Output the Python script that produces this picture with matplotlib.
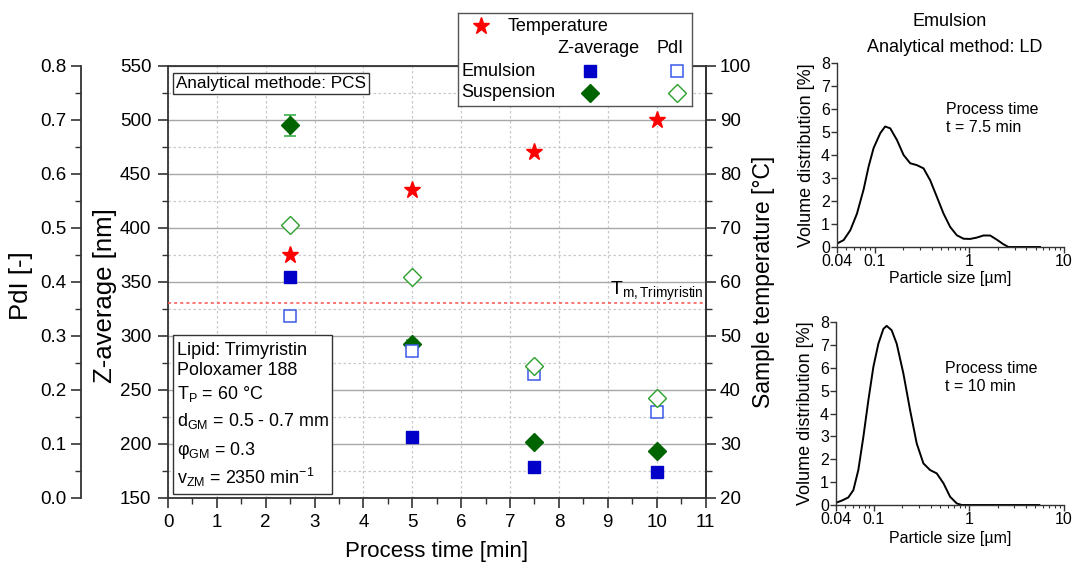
import numpy as np
import matplotlib
matplotlib.use("Agg")
import matplotlib.pyplot as plt
from matplotlib.lines import Line2D
from matplotlib.patches import Rectangle
from matplotlib.ticker import MultipleLocator, FixedLocator, NullFormatter, LogLocator

plt.rcParams['font.family'] = ['Liberation Sans', 'DejaVu Sans']
plt.rcParams['mathtext.fontset'] = 'custom'
plt.rcParams['mathtext.rm'] = 'Liberation Sans'
plt.rcParams['mathtext.it'] = 'Liberation Sans:italic'

# main chart data
process_time = [2.5, 5, 7.5, 10]
emulsion_z = [354, 206, 178, 174]
suspension_z = [495, 292, 201, 193]
suspension_z_err = [10, 4, 2, 2]
emulsion_pdi = [0.337, 0.272, 0.229, 0.159]
suspension_pdi = [0.505, 0.408, 0.244, 0.185]
temperature = [65, 77, 84, 90]
tm_trimyristin = 56

# LD distributions (emulsion)
size_75 = [0.04, 0.047, 0.0553, 0.065, 0.0764, 0.0863, 0.0974, 0.1146, 0.129, 0.146,
           0.172, 0.202, 0.2375, 0.279, 0.328, 0.386, 0.454, 0.534, 0.628, 0.738,
           0.868, 1.02, 1.2, 1.41, 1.66, 1.95, 2.29, 2.59, 5.58]
dist_75 = [0.15, 0.3, 0.73, 1.45, 2.5, 3.5, 4.3, 4.95, 5.24, 5.16,
           4.65, 4.0, 3.64, 3.56, 3.42, 2.9, 2.18, 1.45, 0.87, 0.51,
           0.36, 0.35, 0.41, 0.5, 0.5, 0.32, 0.12, 0.0, 0.0]
size_10 = [0.04, 0.0459, 0.0539, 0.0609, 0.0687, 0.0776, 0.0876, 0.0989, 0.1116, 0.126,
           0.1365, 0.154, 0.174, 0.2045, 0.2405, 0.2825, 0.332, 0.39, 0.459, 0.54,
           0.634, 0.745, 0.84, 5.5]
dist_10 = [0.1, 0.19, 0.33, 0.65, 1.53, 2.98, 4.58, 6.04, 7.05, 7.7,
           7.83, 7.64, 7.05, 5.75, 4.15, 2.69, 1.82, 1.53, 1.38, 0.95,
           0.36, 0.07, 0.0, 0.0]

blue = '#0000c8'
blue_open = '#3a5ae8'
green = '#006400'
green_open = '#2ca02c'
red = '#ff0000'
frame = '#333333'

fig = plt.figure(figsize=(10.72, 5.64), dpi=100)

# ---- main axes (Z-average) ----
ax = fig.add_axes([168/1072, 1-497.5/564, 537.5/1072, 431.5/564])
ax.set_xlim(0, 11)
ax.set_ylim(150, 550)
ax.xaxis.set_major_locator(MultipleLocator(1))
ax.xaxis.set_minor_locator(MultipleLocator(0.5))
ax.yaxis.set_major_locator(MultipleLocator(50))
ax.yaxis.set_minor_locator(MultipleLocator(25))
ax.grid(True, which='major', axis='y', color='#a8a8a8', lw=1, ls='-')
ax.grid(True, which='minor', axis='y', color='#c8c8c8', lw=0.9, ls=(0, (2, 2)))
ax.grid(True, which='major', axis='x', color='#c8c8c8', lw=0.9, ls=(0, (2, 2)))
ax.set_axisbelow(True)
ax.tick_params(which='major', direction='out', length=7, width=1.2, labelsize=13.5, pad=5, color=frame)
ax.tick_params(which='minor', direction='out', length=4, width=1, color=frame)
ax.tick_params(axis='x', which='both', top=False)
for s in ax.spines.values():
    s.set_color(frame)
    s.set_linewidth(1.3)
ax.set_xlabel('Process time [min]', fontsize=16)
ax.set_ylabel('Z-average [nm]', fontsize=18.5)
ax.xaxis.set_label_coords(0.5, -0.1)
ax.yaxis.set_label_coords(-0.095, 0.469)

# ---- PdI axis on the far left ----
ax_p = ax.twinx()
ax_p.set_ylim(0, 0.8)
ax_p.yaxis.set_major_locator(MultipleLocator(0.1))
ax_p.yaxis.set_minor_locator(MultipleLocator(0.05))
ax_p.yaxis.set_major_formatter(matplotlib.ticker.FormatStrFormatter('%.1f'))
ax_p.spines['left'].set_position(('axes', -0.162))
ax_p.spines['left'].set_visible(True)
ax_p.spines['left'].set_color(frame)
ax_p.spines['left'].set_linewidth(1.3)
for k in ['right', 'top', 'bottom']:
    ax_p.spines[k].set_visible(False)
ax_p.yaxis.set_ticks_position('left')
ax_p.yaxis.set_label_position('left')
ax_p.tick_params(which='major', direction='out', length=7, width=1.2, labelsize=13.5, color=frame)
ax_p.tick_params(which='minor', direction='out', length=4, width=1, color=frame)
ax_p.set_ylabel('PdI [-]', fontsize=18.5)
ax_p.yaxis.set_label_coords(-0.251, 0.49)

# ---- temperature axis on the right ----
ax_t = ax.twinx()
ax_t.set_ylim(20, 100)
ax_t.yaxis.set_major_locator(MultipleLocator(10))
ax_t.yaxis.set_minor_locator(MultipleLocator(5))
for k in ['left', 'top', 'bottom']:
    ax_t.spines[k].set_visible(False)
ax_t.spines['right'].set_color(frame)
ax_t.spines['right'].set_linewidth(1.3)
ax_t.tick_params(which='major', direction='out', length=7, width=1.2, labelsize=13.5, color=frame)
ax_t.tick_params(which='minor', direction='out', length=4, width=1, color=frame)
ax_t.set_ylabel('Sample temperature [°C]', fontsize=16.5)
ax_t.yaxis.set_label_coords(1.0865, 0.5)

# data
ax_t.axhline(tm_trimyristin, color='#ff5050', lw=1.1, ls=(0, (2, 2)))
ax_t.text(10.96, 57.6, r'T$_\mathrm{m,Trimyristin}$', ha='right', va='baseline', fontsize=14)

ax_p.plot(process_time, emulsion_pdi, 's', ms=9, mfc='white', mec=blue_open, mew=1.1, ls='none')
ax_p.plot(process_time, suspension_pdi, 'D', ms=9.5, mfc='white', mec=green_open, mew=1.0, ls='none')
ax.errorbar(process_time, suspension_z, yerr=suspension_z_err, fmt='D', ms=9.5, color=green,
            ecolor='#3cb04c', elinewidth=1.2, capsize=4, capthick=1.2, zorder=5)
ax.plot(process_time, emulsion_z, 's', ms=9, color=blue, ls='none', zorder=5)
ax_t.plot(process_time, temperature, '*', ms=12.5, color=red, ls='none')

# text boxes
ax.text(0.015, 0.959, 'Analytical methode: PCS', transform=ax.transAxes, fontsize=12.3,
        va='center', ha='left', zorder=6,
        bbox=dict(boxstyle='square,pad=0.18', fc='white', ec=frame, lw=1))
ax.add_patch(Rectangle((0.0093, 0.008), 0.296, 0.3685, transform=ax.transAxes,
                       fc='white', ec=frame, lw=1, zorder=6))
info_lines = ['Lipid: Trimyristin', 'Poloxamer 188', r'T$_\mathrm{P}$ = 60 °C',
              r'd$_\mathrm{GM}$ = 0.5 - 0.7 mm', r'φ$_\mathrm{GM}$ = 0.3',
              r'v$_\mathrm{ZM}$ = 2350 min$^\mathrm{-1}$']
info_y = [0.331, 0.283, 0.229, 0.166, 0.099, 0.031]
for line, yy in zip(info_lines, info_y):
    ax.text(0.016, yy, line, transform=ax.transAxes, fontsize=12.9, va='baseline', ha='left', zorder=7)

# legend drawn as a small panel above the plot
lg = fig.add_axes([458/1072, 1-106/564, 234/1072, 93/564])
lg.set_xlim(0, 1)
lg.set_ylim(0, 1)
lg.set_xticks([])
lg.set_yticks([])
for s in lg.spines.values():
    s.set_color('#555555')
    s.set_linewidth(1)
lg.add_line(Line2D([0.098], [0.86], marker='*', ms=12.5, color=red, ls='none'))
lg.text(0.21, 0.86, 'Temperature', fontsize=13, va='center')
lg.text(0.6, 0.613, 'Z-average', fontsize=13, va='center', ha='center')
lg.text(0.905, 0.613, 'PdI', fontsize=13, va='center', ha='center')
lg.text(0.013, 0.376, 'Emulsion', fontsize=13, va='center')
lg.text(0.013, 0.14, 'Suspension', fontsize=13, va='center')
lg.add_line(Line2D([0.564], [0.376], marker='s', ms=9, color=blue, ls='none'))
lg.add_line(Line2D([0.936], [0.376], marker='s', ms=9, mfc='white', mec=blue_open, mew=1.1, ls='none'))
lg.add_line(Line2D([0.564], [0.14], marker='D', ms=9.5, color=green, ls='none'))
lg.add_line(Line2D([0.936], [0.14], marker='D', ms=9.5, mfc='white', mec=green_open, mew=1.0, ls='none'))

# ---- LD panels ----
fig.text(950/1072, 1-21/564, 'Emulsion', ha='center', va='center', fontsize=13)
fig.text(955/1072, 1-47/564, 'Analytical method: LD', ha='center', va='center', fontsize=13)


def ld_panel(rect, sizes, dist, label, xlab_y):
    a = fig.add_axes(rect)
    a.plot(sizes, dist, color='black', lw=1.4)
    a.set_xscale('log')
    a.set_xlim(0.04, 10)
    a.set_ylim(0, 8)
    a.xaxis.set_major_locator(FixedLocator([0.04, 0.1, 1, 10]))
    a.set_xticklabels(['0.04', '0.1', '1', '10'])
    a.xaxis.set_minor_locator(LogLocator(base=10, subs=np.arange(2, 10) * 1.0))
    a.xaxis.set_minor_formatter(NullFormatter())
    a.yaxis.set_major_locator(MultipleLocator(1))
    a.spines['top'].set_visible(False)
    a.spines['right'].set_visible(False)
    for k in ['left', 'bottom']:
        a.spines[k].set_color(frame)
        a.spines[k].set_linewidth(1)
    a.tick_params(which='major', direction='out', length=4, width=1, labelsize=11.5, pad=1, color=frame)
    a.tick_params(which='minor', direction='out', length=2, width=0.8, color=frame)
    a.set_xlabel('Particle size [µm]', fontsize=11.5)
    a.set_ylabel('Volume distribution [%]', fontsize=13)
    a.xaxis.set_label_coords(0.5, xlab_y)
    a.yaxis.set_label_coords(-0.095, 0.5)
    a.text(0.48, 0.745, 'Process time', transform=a.transAxes, fontsize=11.5, va='center')
    a.text(0.48, 0.65, label, transform=a.transAxes, fontsize=11.5, va='center')
    return a


ld_panel([837/1072, 1-247/564, 227/1072, 184/564], size_75, dist_75, 't = 7.5 min', -0.13)
ld_panel([836/1072, 1-505/564, 228/1072, 183/564], size_10, dist_10, 't = 10 min', -0.14)

fig.savefig('out.png', dpi=100)
